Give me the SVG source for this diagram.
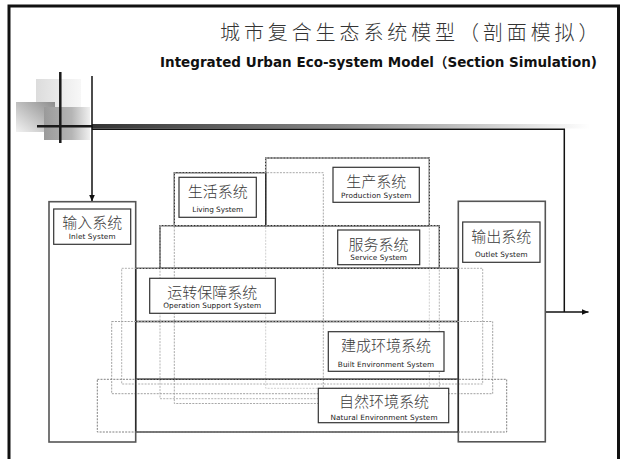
<svg xmlns="http://www.w3.org/2000/svg" width="624" height="459" viewBox="0 0 624 459">
<defs>
<style>
.zh{font-family:"Noto Sans CJK SC","Noto Sans",sans-serif;font-weight:300;fill:#3a3a3a;text-anchor:middle}
.en{font-family:"DejaVu Sans","Liberation Sans",sans-serif;fill:#222;text-anchor:middle;font-size:7.3px}
.lb{fill:#fff;stroke:#333;stroke-width:1.2}
.layer{fill:none;stroke:#2a2a2a;stroke-width:1.3}
.io{fill:none;stroke:#555;stroke-width:1.6}
.dash{fill:none;stroke-width:1;stroke-dasharray:2 1.2}
.con{fill:none;stroke:#111;stroke-width:1.5}
</style>
<marker id="ah" markerUnits="userSpaceOnUse" markerWidth="7" markerHeight="6" refX="7" refY="3" orient="auto">
<path d="M0,0 L7,3 L0,6 z" fill="#111"/>
</marker>
<linearGradient id="gbar" x1="0" y1="0" x2="1" y2="0">
<stop offset="0" stop-color="#333"/>
<stop offset="0.5" stop-color="#888"/>
<stop offset="1" stop-color="#fff"/>
</linearGradient>
<linearGradient id="gsq1" x1="0" y1="0" x2="1" y2="0">
<stop offset="0" stop-color="#dcdcdc"/>
<stop offset="1" stop-color="#f7f7f7"/>
</linearGradient>
<linearGradient id="gsq2" x1="1" y1="0" x2="0" y2="1">
<stop offset="0" stop-color="#8c8c8c"/>
<stop offset="1" stop-color="#f2f2f2"/>
</linearGradient>
<linearGradient id="gsq3" x1="0" y1="0" x2="1" y2="0">
<stop offset="0" stop-color="#9a9a9a"/>
<stop offset="0.6" stop-color="#b5b5b5"/>
<stop offset="1" stop-color="#f0f0f0"/>
</linearGradient>
</defs>
<rect width="624" height="459" fill="#fff"/>
<g id="frame">
<rect x="9" y="6" width="609.5" height="470" fill="none" stroke="#111" stroke-width="3"/>
</g>
<g id="title">
<text x="220" y="39.5" font-family="'Noto Sans CJK SC',sans-serif" font-weight="300" font-size="20" letter-spacing="3.9" fill="#333">城市复合生态系统模型（剖面模拟）</text>
<text x="160" y="67" font-family="'DejaVu Sans','Noto Sans CJK SC',sans-serif" font-weight="bold" font-size="13.5" fill="#111" textLength="437" lengthAdjust="spacingAndGlyphs">Integrated Urban Eco-system Model（Section Simulation)</text>
</g>
<g id="decoration">
<rect x="36" y="79" width="45" height="28" fill="url(#gsq1)"/>
<rect x="16" y="102" width="39" height="30" fill="url(#gsq2)"/>
<rect x="44" y="107" width="46" height="33" fill="url(#gsq3)"/>
<rect x="92" y="124" width="498" height="4.5" fill="url(#gbar)"/>
<line x1="60.3" y1="72" x2="60.3" y2="143" stroke="#1a1a1a" stroke-width="2.5"/>
<line x1="37" y1="126.3" x2="92" y2="126.3" stroke="#1a1a1a" stroke-width="2.5"/>
</g>
<g id="connectors">
<line class="con" x1="92" y1="76" x2="92" y2="201.5" marker-end="url(#ah)"/>
<polyline class="con" points="92,129.3 564.3,129.3 564.3,312"/>
<line class="con" x1="545.3" y1="312" x2="588.5" y2="312" marker-end="url(#ah)"/>
</g>
<g id="inlet">
<rect class="io" x="49" y="201.7" width="86.7" height="240.3"/>
<rect class="lb" x="53.7" y="209" width="77" height="35.3"/>
<text class="zh" x="92.2" y="228.3" font-size="15">输入系统</text>
<text class="en" x="92.2" y="239" textLength="46.7">Inlet System</text>
</g>
<g id="outlet">
<rect class="io" x="458.3" y="201.3" width="87" height="240.5"/>
<rect class="lb" x="462.7" y="222" width="77.3" height="40.3"/>
<text class="zh" x="501.3" y="242" font-size="15">输出系统</text>
<text class="en" x="501.3" y="256.8" textLength="52.7">Outlet System</text>
</g>
<g id="production">
<rect class="layer" x="265.7" y="158" width="163.6" height="67.7"/>
<rect class="dash" x="265.7" y="158" width="163.6" height="230.3" stroke="#d0d0d0"/>
<rect class="lb" x="333" y="167.3" width="86.3" height="35"/>
<text class="zh" x="376.2" y="187" font-size="15">生产系统</text>
<text class="en" x="376.2" y="197.5" textLength="70.3">Production System</text>
</g>
<g id="living">
<rect class="layer" x="174.3" y="172.7" width="91.4" height="53"/>
<rect class="dash" x="174.3" y="172.7" width="149" height="230.8" stroke="#a8a8a8"/>
<rect class="lb" x="179" y="177.3" width="77.3" height="40"/>
<text class="zh" x="217.7" y="197" font-size="15">生活系统</text>
<text class="en" x="217.7" y="212" textLength="50.7">Living System</text>
</g>
<g id="service">
<rect class="layer" x="160" y="225.7" width="279.3" height="42.6"/>
<rect class="dash" x="160" y="225.7" width="279.3" height="173" stroke="#b5b5b5"/>
<rect class="lb" x="337.7" y="230" width="82" height="34.7"/>
<text class="zh" x="378.6" y="249.5" font-size="15">服务系统</text>
<text class="en" x="378.6" y="259.8" textLength="56.7">Service System</text>
</g>
<g id="operation">
<rect class="layer" x="135.7" y="268.3" width="322.6" height="53.2"/>
<rect class="dash" x="121.7" y="268.3" width="361" height="115.7" stroke="#b0b0b0"/>
<rect class="lb" x="149.7" y="278.3" width="125.6" height="35"/>
<text class="zh" x="212.2" y="298" font-size="15">运转保障系统</text>
<text class="en" x="212.2" y="308" textLength="98">Operation Support System</text>
</g>
<g id="built">
<rect class="layer" x="135.7" y="321.5" width="322.6" height="57.8"/>
<rect class="dash" x="111.7" y="321.5" width="381" height="72.2" stroke="#a0a0a0"/>
<rect class="lb" x="328.3" y="331.7" width="115.7" height="39.6"/>
<text class="zh" x="386" y="351" font-size="15">建成环境系统</text>
<text class="en" x="386" y="366.5" textLength="96.3">Built Environment System</text>
</g>
<g id="natural">
<rect class="layer" x="135.7" y="379.3" width="322.6" height="52.7"/>
<rect class="dash" x="97.3" y="379.3" width="409.4" height="52.7" stroke="#808080"/>
<rect class="lb" x="318.3" y="388.3" width="130.4" height="34.4"/>
<text class="zh" x="384" y="407" font-size="15">自然环境系统</text>
<text class="en" x="384" y="420" textLength="107">Natural Environment System</text>
</g>
</svg>
